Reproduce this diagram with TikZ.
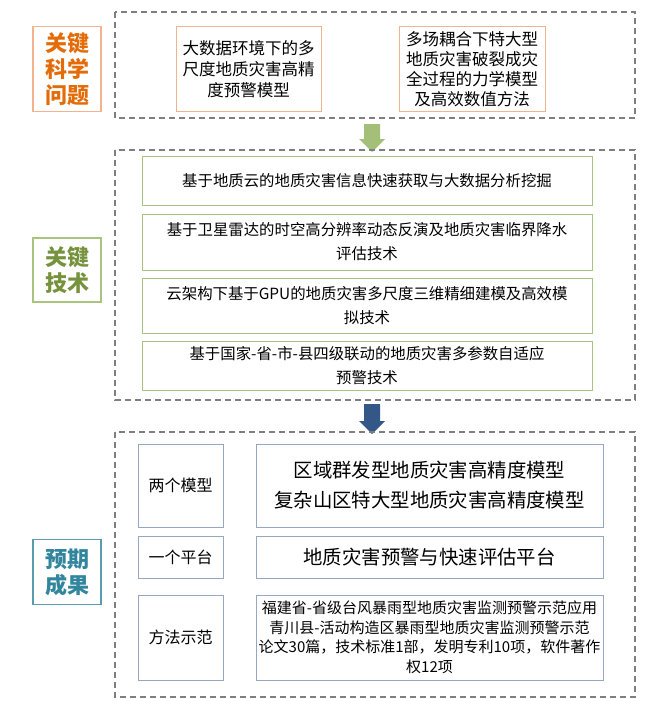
\documentclass[tikz,border=0pt]{standalone}
\usepackage{fontspec}
\setmainfont{Noto Sans CJK SC}
\usetikzlibrary{shapes.arrows}
\definecolor{og}{HTML}{E36C09}
\definecolor{ogb}{HTML}{F2B48E}
\definecolor{gt}{HTML}{76923C}
\definecolor{gb}{HTML}{A9C47F}
\definecolor{tt}{HTML}{31859C}
\definecolor{tb}{HTML}{5B9BB0}
\definecolor{bb}{HTML}{95A8C0}
\definecolor{dg}{HTML}{7F7F7F}
\begin{document}
\begin{tikzpicture}[x=1pt,y=-1pt,
 dbox/.style={draw=dg,dashed,dash pattern=on 6pt off 4pt,line width=1.2pt},
 lab/.style={draw,line width=1.5pt,font=\fontsize{22}{26}\selectfont\bfseries,align=center,inner sep=0pt},
 tbox/.style={draw,line width=1pt,align=center,inner sep=0pt,text=black}]
\useasboundingbox (0,0) rectangle (665,709);
% top
\draw[dbox] (115,12) rectangle (635,118);
\node[lab,draw=ogb,text=og,minimum width=68pt,minimum height=85pt] (l1) at (67,69) {关键\\科学\\问题};
\node[tbox,draw=ogb,minimum width=145pt,minimum height=84pt,font=\fontsize{16.5}{21}\selectfont] (q1) at (248.5,69) {大数据环境下的多\\尺度地质灾害高精\\度预警模型};
\node[tbox,draw=ogb,minimum width=146pt,minimum height=84pt,font=\fontsize{16.5}{20}\selectfont] (q2) at (472,69) {多场耦合下特大型\\地质灾害破裂成灾\\全过程的力学模型\\及高效数值方法};
% arrow 1
\node[single arrow,shape border rotate=270,fill=gb!90!gt,draw=none,minimum width=26pt,single arrow head extend=2pt,minimum height=28pt,inner sep=3pt] (a1) at (372,134) {};
% middle
\draw[dbox] (115,150) rectangle (635,400);
\node[lab,draw=gb,text=gt,minimum width=68pt,minimum height=64pt] (l2) at (67,270) {关键\\技术};
\foreach \n/\ya/\yb/\t in {m1/156/205/{基于地质云的地质灾害信息快速获取与大数据分析挖掘},
 m2/214/270/{基于卫星雷达的时空高分辨率动态反演及地质灾害临界降水\\评估技术},
 m3/278/333/{云架构下基于GPU的地质灾害多尺度三维精细建模及高效模\\拟技术},
 m4/341/390/{基于国家-省-市-县四级联动的地质灾害多参数自适应\\预警技术}}
 \node[tbox,draw=gb,minimum width=450pt,minimum height={\yb-\ya},font=\fontsize{15.4}{24}\selectfont] (\n) at (367,{(\ya+\yb)/2}) {\t};
% arrow 2
\node[single arrow,shape border rotate=270,fill=tb!80!blue!70!black,draw=none,minimum width=26pt,single arrow head extend=2pt,minimum height=30pt,inner sep=3pt] (a2) at (372,415) {};
% bottom
\draw[dbox] (115,432) rectangle (635,697);
\node[lab,draw=tb,text=tt,minimum width=68pt,minimum height=65pt] (l3) at (67,572) {预期\\成果};
\node[tbox,draw=bb,minimum width=85pt,minimum height=83pt,font=\fontsize{16}{18}\selectfont] (b1) at (180.5,485.5) {两个模型};
\node[tbox,draw=bb,minimum width=85pt,minimum height=42pt,font=\fontsize{16}{18}\selectfont] (b2) at (180.5,557) {一个平台};
\node[tbox,draw=bb,minimum width=85pt,minimum height=85pt,font=\fontsize{16}{18}\selectfont] (b3) at (180.5,637.5) {方法示范};
\node[tbox,draw=bb,minimum width=347pt,minimum height=83pt,font=\fontsize{19.4}{30}\selectfont] (c1) at (429.5,485.5) {区域群发型地质灾害高精度模型\\复杂山区特大型地质灾害高精度模型};
\node[tbox,draw=bb,minimum width=347pt,minimum height=42pt,font=\fontsize{19.4}{22}\selectfont] (c2) at (429.5,557) {地质灾害预警与快速评估平台};
\node[tbox,draw=bb,minimum width=347pt,minimum height=85pt,font=\fontsize{15}{19.5}\selectfont] (c3) at (429.5,637.5) {福建省-省级台风暴雨型地质灾害监测预警示范应用\\青川县-活动构造区暴雨型地质灾害监测预警示范\\论文30篇，技术标准1部，发明专利10项，软件著作\\权12项};
\end{tikzpicture}
\end{document}
